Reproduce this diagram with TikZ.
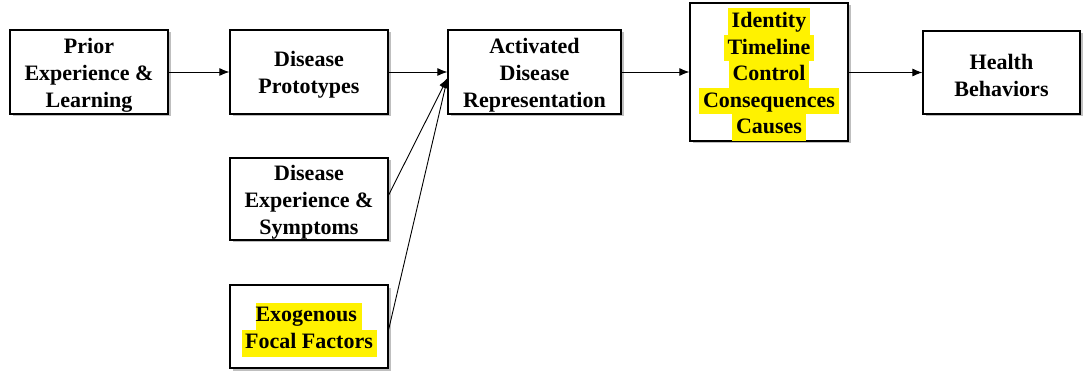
\documentclass[tikz,border=0pt]{standalone}
\usepackage{fontspec}
\setmainfont{Liberation Serif}
\usetikzlibrary{arrows.meta,shadows}
\newcommand\hlt[1]{{\setlength{\fboxsep}{0pt}\colorbox{yellow}{\strut\,#1\,}}}
\newcommand\hltn[1]{{\setlength{\fboxsep}{0pt}\colorbox{yellow}{\strut#1}}}
\newcommand\hltb[1]{{\setlength{\fboxsep}{0pt}\colorbox{yellow}{\rule{0pt}{19.5pt}\rule[-7pt]{0pt}{7pt}\,#1\,}}}
\newcommand\tp[1]{\rule{0pt}{#1}}
\tikzset{
  box/.style={draw, line width=1.3pt, fill=white, align=center, inner sep=0pt,
    font=\bfseries\fontsize{22}{27}\selectfont,
    drop shadow={shadow xshift=2.5pt, shadow yshift=-2.5pt, fill=black, opacity=0.25}},
  arr/.style={line width=0.9pt, -{Latex[length=10pt,width=8pt]}}
}
\begin{document}
\begin{tikzpicture}[x=1pt,y=-1pt]
\useasboundingbox (0,0) rectangle (1086,371);
\node[box, minimum width=158pt, minimum height=84pt] (prior) at (89,72) {\tp{21pt}Prior\\Experience \&\\Learning};
\node[box, minimum width=158pt, minimum height=84pt] (proto) at (309,72) {\tp{21pt}Disease\\Prototypes};
\node[box, minimum width=173pt, minimum height=84pt] (act) at (534.5,72) {\tp{21pt}Activated\\Disease\\Representation};
\node[box, font=\bfseries\fontsize{22}{26.5}\selectfont, minimum width=158pt, minimum height=138pt] (ident) at (769,72) {\tp{25pt}\hltb{Identity}\\\hltb{Timeline}\\\hltb{Control}\\\hltb{Consequences}\\\hltb{Causes}};
\node[box, minimum width=157pt, minimum height=83pt] (health) at (1001.5,72.5) {\tp{21pt}Health\\Behaviors};
\node[box, minimum width=158pt, minimum height=82pt] (symp) at (309,199) {\tp{21pt}Disease\\Experience \&\\Symptoms};
\node[box, minimum width=158pt, minimum height=83pt] (exo) at (309,326.5) {\tp{25pt}\hltn{Exogenous\ }\\\hlt{Focal Factors}};
\coordinate (conv) at (447.5,78);
\draw[arr] (prior.east) -- (proto.west);
\draw[arr] (proto.east) -- (act.west);
\draw[arr] ([yshift=4pt]symp.east) -- (conv);
\draw[arr] ([yshift=-3pt]exo.east) -- (conv);
\draw[arr] (act.east) -- (ident.west |- act.east);
\draw[arr] (ident.east |- health.west) -- (health.west);
\end{tikzpicture}
\end{document}
